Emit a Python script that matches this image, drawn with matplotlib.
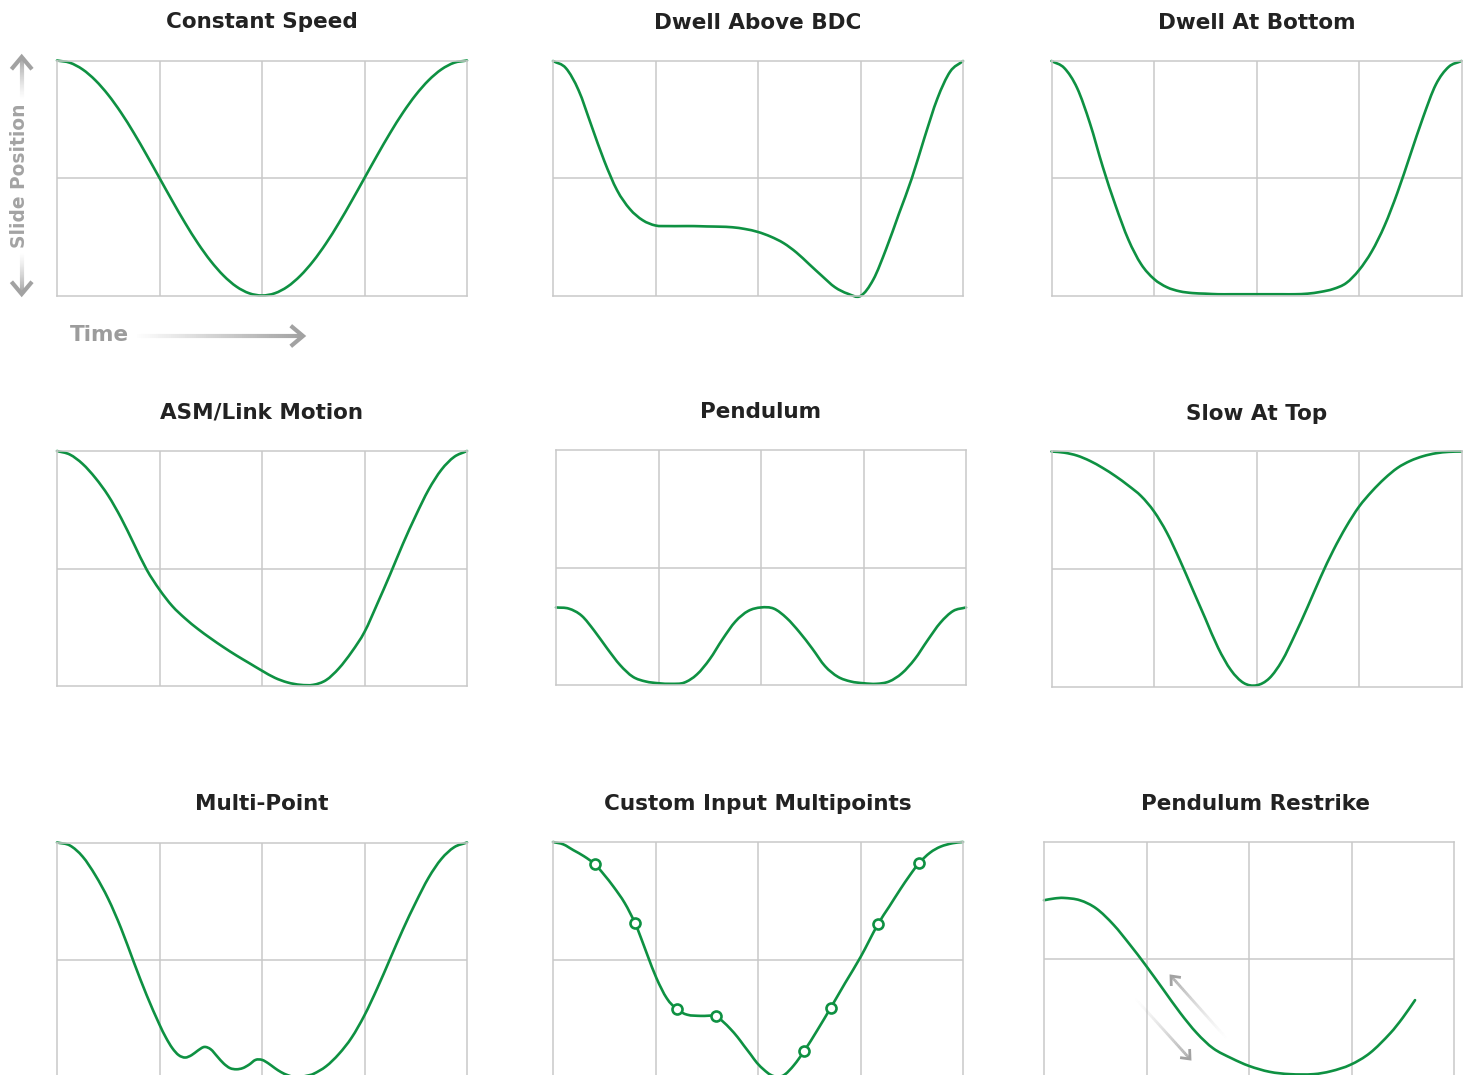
import matplotlib
matplotlib.use("Agg")
import matplotlib.pyplot as plt
import numpy as np
from matplotlib.collections import LineCollection
from matplotlib.colors import to_rgb
from matplotlib.patches import PathPatch
from matplotlib.path import Path

plt.rcParams["font.family"] = ["DejaVu Sans"]

W, H = 1469, 1075
GREEN = "#0e9142"
GRID = "#c9c9c9"
ARROW = "#a2a2a2"

# shared time samples (one revolution split in 4 grid columns)
time_steps = [0, 0.125, 0.25, 0.375, 0.5, 0.625, 0.75, 0.875,
              1.0, 1.125, 1.25, 1.375, 1.5, 1.625, 1.75, 1.875,
              2.0, 2.125, 2.25, 2.375, 2.5, 2.625, 2.75, 2.875,
              3.0, 3.125, 3.25, 3.375, 3.5, 3.625, 3.75, 3.875, 4.0]

constant_speed = [2.000, 1.981, 1.924, 1.831, 1.707, 1.556, 1.383, 1.195,
                  1.000, 0.805, 0.617, 0.444, 0.293, 0.169, 0.076, 0.019,
                  0.000, 0.019, 0.076, 0.169, 0.293, 0.444, 0.617, 0.805,
                  1.000, 1.195, 1.383, 1.556, 1.707, 1.831, 1.924, 1.981, 2.000]

dwell_above_bdc = [2.00, 1.94, 1.75, 1.45, 1.15, 0.90, 0.74, 0.645,
                   0.60, 0.595, 0.595, 0.595, 0.592, 0.59, 0.585, 0.57,
                   0.545, 0.505, 0.45, 0.37, 0.27, 0.17, 0.075, 0.02,
                   0.00, 0.14, 0.40, 0.70, 1.00, 1.35, 1.68, 1.91, 2.00]

dwell_at_bottom = [2.00, 1.94, 1.77, 1.47, 1.10, 0.77, 0.48, 0.27,
                   0.145, 0.075, 0.04, 0.025, 0.02, 0.015, 0.015, 0.015,
                   0.015, 0.015, 0.015, 0.015, 0.02, 0.035, 0.06, 0.11,
                   0.22, 0.38, 0.60, 0.88, 1.20, 1.52, 1.80, 1.95, 2.00]

asm_link = [2.00, 1.97, 1.89, 1.77, 1.62, 1.43, 1.21, 0.99,
            0.82, 0.68, 0.575, 0.485, 0.405, 0.33, 0.26, 0.195,
            0.13, 0.07, 0.03, 0.01, 0.01, 0.05, 0.15, 0.29,
            0.46, 0.70, 0.95, 1.21, 1.45, 1.67, 1.84, 1.95, 2.00]

pendulum = [0.66, 0.65, 0.59, 0.46, 0.31, 0.17, 0.07, 0.03,
            0.015, 0.01, 0.02, 0.09, 0.22, 0.39, 0.54, 0.63,
            0.66, 0.65, 0.57, 0.45, 0.31, 0.16, 0.07, 0.03,
            0.015, 0.01, 0.03, 0.10, 0.22, 0.38, 0.53, 0.63, 0.66]

slow_at_top = [2.00, 1.99, 1.965, 1.92, 1.86, 1.79, 1.71, 1.62,
               1.49, 1.31, 1.08, 0.83, 0.58, 0.33, 0.14, 0.03,
               0.01, 0.07, 0.22, 0.44, 0.68, 0.93, 1.16, 1.36,
               1.53, 1.66, 1.77, 1.86, 1.92, 1.96, 1.985, 1.997, 2.00]

multi_point_t = [0, 0.125, 0.25, 0.375, 0.5, 0.625, 0.75, 0.875, 1.0,
                 1.0625, 1.125, 1.1875, 1.25, 1.3125, 1.375, 1.4375, 1.5,
                 1.5625, 1.625, 1.6875, 1.75, 1.8125, 1.875, 1.9375, 2.0,
                 2.0625, 2.125, 2.1875, 2.25, 2.3125, 2.375, 2.4375, 2.5,
                 2.625, 2.75, 2.875, 3.0, 3.125, 3.25, 3.375, 3.5,
                 3.625, 3.75, 3.875, 4.0]
multi_point = [2.0, 1.975, 1.88, 1.72, 1.52, 1.27, 0.98, 0.70, 0.45,
               0.34, 0.25, 0.19, 0.17, 0.19, 0.23, 0.26, 0.24,
               0.18, 0.12, 0.08, 0.07, 0.08, 0.11, 0.15, 0.15,
               0.12, 0.08, 0.045, 0.02, 0.005, 0.005, 0.015, 0.03,
               0.095, 0.20, 0.34, 0.53, 0.76, 1.01, 1.26, 1.49,
               1.70, 1.86, 1.96, 2.0]

custom_t = [0, 0.1, 0.2, 0.3, 0.41, 0.5, 0.59, 0.7, 0.80, 0.86,
            0.92, 1.01, 1.11, 1.21, 1.31, 1.44, 1.59, 1.66, 1.73, 1.80,
            1.86, 1.93, 1.99, 2.06, 2.12, 2.19, 2.26, 2.35, 2.45, 2.58,
            2.71, 2.85, 3.0, 3.17, 3.28, 3.39, 3.48, 3.57, 3.68, 3.78,
            3.9, 4.0]
custom_curve = [2.0, 1.98, 1.93, 1.88, 1.81, 1.72, 1.62, 1.48, 1.31, 1.18,
                1.04, 0.84, 0.67, 0.575, 0.53, 0.52, 0.517, 0.47, 0.41, 0.34,
                0.27, 0.19, 0.12, 0.06, 0.02, 0.0, 0.02, 0.10, 0.22, 0.40,
                0.59, 0.80, 1.02, 1.30, 1.45, 1.60, 1.715, 1.82, 1.91, 1.96,
                1.99, 2.0]
custom_points_t = [0.41, 0.80, 1.21, 1.59, 2.45, 2.71, 3.17, 3.57]
custom_points = [1.81, 1.31, 0.575, 0.517, 0.22, 0.59, 1.30, 1.82]

restrike_t = [0, 0.1, 0.19, 0.35, 0.51, 0.68, 0.84, 0.985, 1.16, 1.33,
              1.49, 1.65, 1.83, 2.0, 2.2, 2.4, 2.63, 2.8, 2.99, 3.18,
              3.38, 3.5, 3.62]
restrike = [1.50, 1.515, 1.52, 1.50, 1.43, 1.29, 1.12, 0.955, 0.745, 0.54,
            0.37, 0.24, 0.155, 0.09, 0.04, 0.02, 0.02, 0.045, 0.10, 0.20,
            0.37, 0.50, 0.65]

titles = ["Constant Speed", "Dwell Above BDC", "Dwell At Bottom",
          "ASM/Link Motion", "Pendulum", "Slow At Top",
          "Multi-Point", "Custom Input Multipoints", "Pendulum Restrike"]

# panel boxes in pixels: left, top
boxes = [(57, 60.5), (553, 61), (1051.5, 61),
         (57, 451), (556, 450), (1051.5, 451.5),
         (57, 842.5), (553, 842), (1044, 841.5)]
PW, PH = 410, 235


def smooth_line(ax, xs, ys, **kw):
    """Draw the read points joined by cubic Bezier pieces (Hermite tangents)."""
    x = np.asarray(xs, float)
    y = np.asarray(ys, float)
    m = np.empty_like(y)
    m[1:-1] = (y[2:] - y[:-2]) / (x[2:] - x[:-2])
    m[0] = (y[1] - y[0]) / (x[1] - x[0])
    m[-1] = (y[-1] - y[-2]) / (x[-1] - x[-2])
    verts = [(x[0], y[0])]
    codes = [Path.MOVETO]
    for i in range(len(x) - 1):
        h = x[i + 1] - x[i]
        verts += [(x[i] + h / 3, y[i] + m[i] * h / 3),
                  (x[i + 1] - h / 3, y[i + 1] - m[i + 1] * h / 3),
                  (x[i + 1], y[i + 1])]
        codes += [Path.CURVE4] * 3
    ax.add_patch(PathPatch(Path(verts, codes), fill=False, edgecolor=GREEN,
                           capstyle="round", joinstyle="round", **kw))


def fade_arrow(ax, tail, tip, lw, head, color=ARROW, n=80, power=1.3):
    tail = np.asarray(tail, float)
    tip = np.asarray(tip, float)
    pts = tail + (tip - tail) * np.linspace(0, 1, n + 1)[:, None]
    segs = np.stack([pts[:-1], pts[1:]], axis=1)
    rgb = to_rgb(color)
    alphas = np.linspace(0, 1, n) ** power
    ax.add_collection(LineCollection(segs, colors=[(*rgb, a) for a in alphas],
                                     linewidths=lw, capstyle="butt"))
    d = (tip - tail) / np.linalg.norm(tip - tail)
    arms = []
    for ang in (140, -140):
        r = np.radians(ang)
        rot = np.array([[np.cos(r), -np.sin(r)], [np.sin(r), np.cos(r)]])
        arms.append(tip + head * rot @ d)
    ax.plot([arms[0][0], tip[0], arms[1][0]], [arms[0][1], tip[1], arms[1][1]],
            color=color, lw=lw, solid_joinstyle="miter", solid_capstyle="butt")


fig = plt.figure(figsize=(W / 100, H / 100), dpi=100)

axes = []
for (left, top), title in zip(boxes, titles):
    ax = fig.add_axes([left / W, 1 - (top + PH) / H, PW / W, PH / H])
    ax.set_xlim(0, 4)
    ax.set_ylim(0, 2)
    ax.set_xticks([1, 2, 3])
    ax.set_yticks([1])
    ax.tick_params(length=0, labelbottom=False, labelleft=False)
    ax.grid(True, color=GRID, lw=1.1)
    ax.set_axisbelow(True)
    for s in ax.spines.values():
        s.set_color(GRID)
        s.set_linewidth(1.1)
    xc = 0.5 if left != 1044 else 0.515
    ax.text(xc, 1 + 38 / PH, title, transform=ax.transAxes, ha="center", va="center",
            fontsize=15.5, fontweight="bold", color="#222222")
    axes.append(ax)

series = [constant_speed, dwell_above_bdc, dwell_at_bottom, asm_link, pendulum, slow_at_top]
for ax, ys in zip(axes[:6], series):
    smooth_line(ax, time_steps, ys, lw=1.9, clip_on=False)

smooth_line(axes[6], multi_point_t, multi_point, lw=1.9, clip_on=False)
smooth_line(axes[7], custom_t, custom_curve, lw=1.9, clip_on=False)
axes[7].plot(custom_points_t, custom_points, "o", ms=7.2, mfc="white", mec=GREEN,
             mew=1.9, clip_on=False, zorder=5)
smooth_line(axes[8], restrike_t, restrike, lw=1.9, clip_on=False)

# overlay in pixel coordinates for the axis hints and the restrike arrows
ov = fig.add_axes([0, 0, 1, 1], zorder=10)
ov.set_xlim(0, W)
ov.set_ylim(H, 0)
ov.axis("off")
ov.patch.set_alpha(0)

ov.text(20, 176, "Slide Position", rotation=90, ha="center", va="center",
        fontsize=13.4, fontweight="bold", color="#a3a3a3")
fade_arrow(ov, (21.7, 100), (21.7, 57), lw=3, head=16)
fade_arrow(ov, (21.7, 252), (21.7, 294), lw=3, head=16)

ov.text(70, 335, "Time", ha="left", va="center", fontsize=15.5,
        fontweight="bold", color="#9c9c9c")
fade_arrow(ov, (135, 336), (303, 336), lw=3, head=16, power=1.0)

fade_arrow(ov, (1228, 1040), (1171, 976), lw=2, head=10, power=1.6)
fade_arrow(ov, (1134, 997), (1190, 1059), lw=2, head=10, power=1.6)

fig.savefig("out.png", dpi=100)
